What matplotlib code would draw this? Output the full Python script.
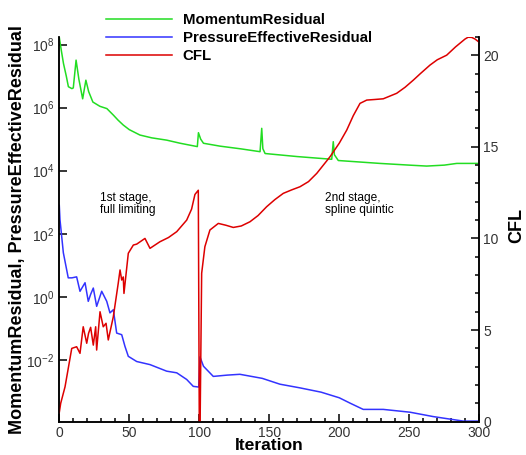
import matplotlib
matplotlib.use('Agg')
import matplotlib.pyplot as plt
from matplotlib.ticker import MultipleLocator, LogLocator, NullLocator
import numpy as np

plt.rcParams['font.family'] = ['Liberation Sans', 'DejaVu Sans']
plt.rcParams['mathtext.default'] = 'regular'

# MomentumResidual
mom_iter = [0, 1.5, 3, 5, 6.5, 9, 10, 12, 14, 16.7, 19, 21, 24, 29, 34, 38.6, 42, 45.7,
            50, 57.6, 66, 76.7, 86.4, 98.6, 99.4, 101, 103, 114.8, 130, 143.4, 144.6,
            145.4, 147, 170, 194.6, 195.7, 196.5, 199.3, 229, 250, 262.4, 275, 283.9, 300]
mom_res = [1.7e8, 6.3e7, 2.5e7, 1.0e7, 4.6e6, 4.0e6, 4.2e6, 3.2e7, 7.9e6, 1.9e6, 7.4e6,
           3.2e6, 1.5e6, 1.1e6, 9.3e5, 5.8e5, 4.0e5, 2.8e5, 2.0e5, 1.35e5, 1.1e5, 9.3e4,
           7.4e4, 5.8e4, 1.6e5, 1.0e5, 7.4e4, 6.0e4, 4.9e4, 4.0e4, 2.2e5, 5.0e4, 3.5e4,
           2.8e4, 2.3e4, 8.3e4, 3.2e4, 2.1e4, 1.7e4, 1.5e4, 1.4e4, 1.5e4, 1.7e4, 1.7e4]

# PressureEffectiveResidual
pres_iter = [0, 0.5, 2.9, 6.4, 9, 12.4, 14.8, 18.4, 20.7, 22.4, 24.3, 26.7, 30.3, 33.9,
             36.2, 38.6, 41, 44.6, 46.9, 49.3, 55.3, 64.8, 76.7, 83.9, 91, 95.7, 99.6,
             100.5, 103, 110, 120, 129, 145, 157.6, 171.9, 187, 200, 208, 217.1, 231.4,
             250.5, 267, 278, 288.6, 300]
pres_res = [8e2, 2.8e2, 25, 4.0, 4.0, 4.3, 1.5, 2.8, 0.72, 1.2, 1.9, 0.5, 1.5, 0.72,
            0.31, 0.39, 0.071, 0.063, 0.027, 0.013, 8.9e-3, 7.1e-3, 4.4e-3, 3.9e-3,
            2.4e-3, 1.45e-3, 1.38e-3, 1.25e-2, 6.3e-3, 3.0e-3, 3.3e-3, 3.5e-3, 2.6e-3,
            1.7e-3, 1.3e-3, 9.5e-4, 6.3e-4, 4.2e-4, 2.7e-4, 2.7e-4, 2.2e-4, 1.6e-4,
            1.35e-4, 1.15e-4, 1.15e-4]

# CFL
cfl_iter = [0, 1, 4.1, 8.9, 12.4, 14.8, 17.1, 19.6, 20.9, 22.4, 24.3, 26, 26.7, 29.1,
            31.4, 33.4, 35, 38.6, 42.1, 43.4, 44.6, 45.7, 46.2, 49.3, 52.9, 55.3, 61.2,
            64.8, 71.9, 78, 83.9, 91, 94.5, 96.9, 99.3, 100, 100.6, 101.7, 104, 107.6,
            113.6, 119, 124.3, 130, 136.2, 142, 148.1, 154, 160, 166, 171.9, 178, 183.9,
            193.4, 200, 205.3, 210, 214.8, 219.6, 225, 231.4, 241, 247, 252.9, 258,
            264.8, 270, 276.7, 283, 289.8, 292, 294.6, 297, 300]
cfl = [0.5, 1.0, 1.9, 4.0, 4.09, 3.73, 5.18, 4.28, 4.82, 5.15, 4.18, 5.18, 3.91, 6.0,
       5.18, 5.37, 4.46, 5.73, 7.55, 8.28, 7.73, 7.9, 7.0, 9.19, 9.64, 9.69, 10.0, 9.46,
       9.82, 10.05, 10.37, 11.0, 11.6, 12.4, 12.63, 0.0, 0.0, 8.1, 9.55, 10.46, 10.82,
       10.72, 10.6, 10.68, 10.91, 11.25, 11.73, 12.12, 12.46, 12.65, 12.82, 13.1,
       13.55, 14.46, 15.2, 15.91, 16.7, 17.37, 17.55, 17.58, 17.62, 17.92, 18.25,
       18.64, 19.0, 19.46, 19.75, 20.0, 20.45, 20.88, 20.98, 20.97, 20.88, 20.7]

x_ticks = [0, 50, 100, 150, 200, 250, 300]
cfl_ticks = [0, 5, 10, 15, 20]

fig = plt.figure(figsize=(5.26, 4.55), dpi=100)
ax = fig.add_axes([0.1127, 0.0732, 0.7985, 0.8458])
ax2 = ax.twinx()

l1, = ax.plot(mom_iter, mom_res, color='#22dd22', lw=1.1, label='MomentumResidual')
l2, = ax.plot(pres_iter, pres_res, color='#3333ff', lw=1.1, label='PressureEffectiveResidual')
l3, = ax2.plot(cfl_iter, cfl, color='#dd0000', lw=1.1, label='CFL')

ax.set_yscale('log')
ax.set_xlim(0, 300)
ax.set_ylim(1.1e-4, 1.75e8)
ax2.set_ylim(0, 21)

ax.set_xticks(x_ticks)
ax.xaxis.set_minor_locator(MultipleLocator(10))
ax.yaxis.set_major_locator(LogLocator(base=100.0))
ax.yaxis.set_minor_locator(NullLocator())
ax2.set_yticks(cfl_ticks)
ax2.yaxis.set_minor_locator(MultipleLocator(1))

for a in (ax, ax2):
    a.spines['top'].set_visible(False)
    for s in a.spines.values():
        s.set_linewidth(1.1)
    a.tick_params(which='both', direction='in', width=1.1, labelsize=10,
                  labelcolor='#333333')
    a.tick_params(which='major', length=6)
    a.tick_params(which='minor', length=3)
ax.tick_params(axis='x', pad=3)
ax2.tick_params(axis='y', pad=3)

ax.set_xlabel('Iteration', fontsize=12.6, fontweight='bold', labelpad=-1)
ax.set_ylabel('MomentumResidual, PressureEffectiveResidual', fontsize=13,
              fontweight='bold')
ax.yaxis.set_label_coords(-0.079, 0.5)
ax2.set_ylabel('CFL', fontsize=13, fontweight='bold')
ax2.yaxis.set_label_coords(1.069, 0.51)

ax.text(0.097, 0.596, '1st stage,\nfull limiting', transform=ax.transAxes,
        fontsize=8.6, va='top', ha='left', linespacing=1.0)
ax.text(0.633, 0.596, '2nd stage,\nspline quintic', transform=ax.transAxes,
        fontsize=8.6, va='top', ha='left', linespacing=1.0)

leg = fig.legend(handles=[l1, l2, l3], loc='upper left',
                 bbox_to_anchor=(98 / 526, 1 - 6 / 455), frameon=False,
                 borderpad=0, handlelength=4.4, handletextpad=0.75,
                 labelspacing=0.25, prop={'size': 10.8, 'weight': 'bold'})

fig.savefig('out.png', dpi=100)
